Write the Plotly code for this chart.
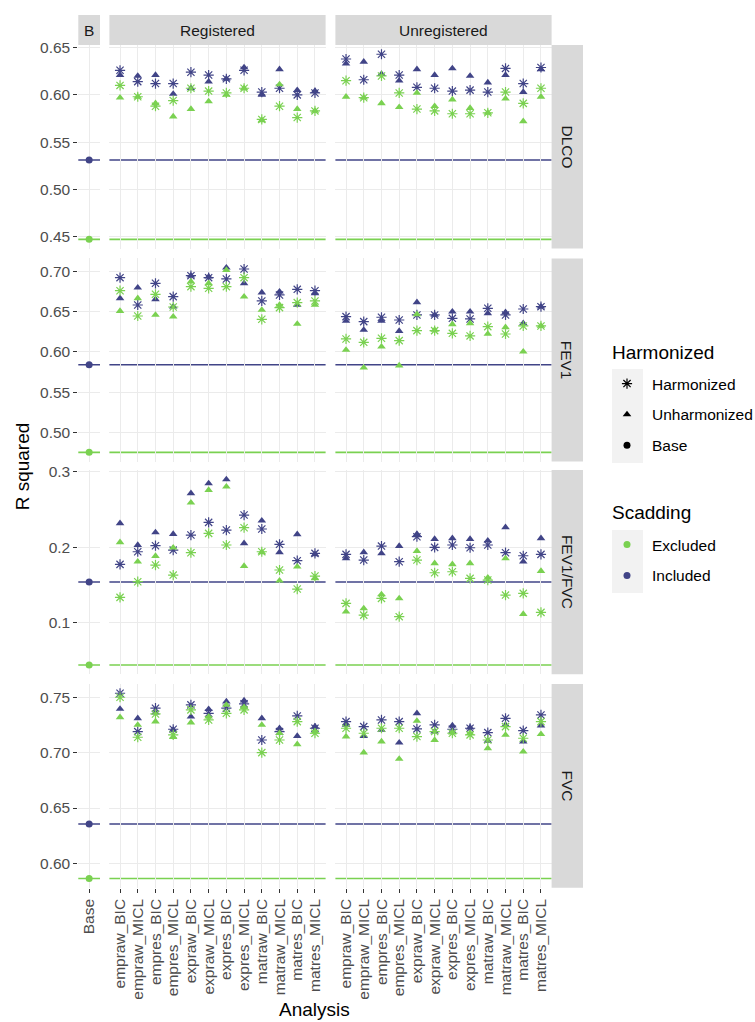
import plotly.graph_objects as go

# ---------------- data ----------------
CATEGORIES = ["empraw_BIC", "empraw_MICL", "empres_BIC", "empres_MICL",
              "expraw_BIC", "expraw_MICL", "expres_BIC", "expres_MICL",
              "matraw_BIC", "matraw_MICL", "matres_BIC", "matres_MICL"]
BASE_CATEGORY = ["Base"]
FACETS = ["B", "Registered", "Unregistered"]
MEASURES = ["DLCO", "FEV1", "FEV1/FVC", "FVC"]

# DLCO
DLCO_REG_INC_HARM = [0.626, 0.614, 0.612, 0.612, 0.624, 0.621, 0.617, 0.626, 0.603, 0.607, 0.600, 0.602]
DLCO_REG_INC_UNH = [0.621, 0.620, 0.621, 0.601, 0.607, 0.614, 0.617, 0.629, 0.600, 0.627, 0.605, 0.604]
DLCO_REG_EXC_HARM = [0.610, 0.598, 0.588, 0.594, 0.607, 0.604, 0.602, 0.607, 0.574, 0.588, 0.576, 0.583]
DLCO_REG_EXC_UNH = [0.597, 0.598, 0.591, 0.577, 0.585, 0.593, 0.600, 0.607, 0.573, 0.611, 0.585, 0.583]
DLCO_UNR_INC_HARM = [0.638, 0.616, 0.643, 0.621, 0.608, 0.607, 0.604, 0.605, 0.603, 0.628, 0.612, 0.629]
DLCO_UNR_INC_UNH = [0.633, 0.635, 0.622, 0.615, 0.627, 0.621, 0.628, 0.620, 0.613, 0.621, 0.603, 0.627]
DLCO_UNR_EXC_HARM = [0.615, 0.597, 0.620, 0.602, 0.585, 0.583, 0.580, 0.580, 0.581, 0.603, 0.591, 0.607]
DLCO_UNR_EXC_UNH = [0.598, 0.597, 0.591, 0.587, 0.602, 0.588, 0.595, 0.586, 0.581, 0.596, 0.572, 0.598]

# FEV1
FEV1_REG_INC_HARM = [0.6925, 0.6585, 0.6855, 0.6689, 0.6950, 0.6925, 0.6909, 0.7033, 0.6635, 0.6710, 0.6780, 0.6763]
FEV1_REG_INC_UNH = [0.6668, 0.6801, 0.6656, 0.6564, 0.6950, 0.6938, 0.7050, 0.6855, 0.6739, 0.6751, 0.6585, 0.6730]
FEV1_REG_EXC_HARM = [0.6763, 0.6448, 0.6718, 0.6560, 0.6813, 0.6793, 0.6813, 0.6925, 0.6407, 0.6552, 0.6614, 0.6635]
FEV1_REG_EXC_UNH = [0.6510, 0.6668, 0.6461, 0.6440, 0.6876, 0.6855, 0.7020, 0.6689, 0.6523, 0.6585, 0.6349, 0.6585]
FEV1_UNR_INC_HARM = [0.6440, 0.6378, 0.6432, 0.6398, 0.6461, 0.6461, 0.6419, 0.6411, 0.6544, 0.6461, 0.6535, 0.6564]
FEV1_UNR_INC_UNH = [0.6386, 0.6274, 0.6386, 0.6261, 0.6618, 0.6461, 0.6502, 0.6502, 0.6481, 0.6494, 0.6357, 0.6564]
FEV1_UNR_EXC_HARM = [0.6162, 0.6120, 0.6170, 0.6141, 0.6266, 0.6266, 0.6232, 0.6200, 0.6315, 0.6224, 0.6324, 0.6324]
FEV1_UNR_EXC_UNH = [0.6025, 0.5805, 0.6066, 0.5830, 0.6469, 0.6274, 0.6344, 0.6357, 0.6224, 0.6307, 0.6004, 0.6324]

# FEV1/FVC
RATIO_REG_INC_HARM = [0.1773, 0.1940, 0.2020, 0.1962, 0.2161, 0.2329, 0.2227, 0.2426, 0.2241, 0.2038, 0.1821, 0.1918]
RATIO_REG_INC_UNH = [0.2316, 0.2029, 0.2196, 0.2174, 0.2713, 0.2845, 0.2898, 0.2051, 0.2351, 0.1932, 0.2170, 0.1905]
RATIO_REG_EXC_HARM = [0.1336, 0.1543, 0.1764, 0.1631, 0.1927, 0.2183, 0.2029, 0.2258, 0.1940, 0.1698, 0.1446, 0.1618]
RATIO_REG_EXC_UNH = [0.2064, 0.1808, 0.1883, 0.1993, 0.2589, 0.2757, 0.2801, 0.1751, 0.1932, 0.1556, 0.1742, 0.1587]
RATIO_UNR_INC_HARM = [0.1905, 0.1830, 0.2015, 0.1808, 0.2139, 0.1998, 0.2029, 0.1993, 0.2029, 0.1927, 0.1887, 0.1905]
RATIO_UNR_INC_UNH = [0.1852, 0.1932, 0.1918, 0.2015, 0.2174, 0.2108, 0.2117, 0.2108, 0.2086, 0.2263, 0.1808, 0.2117]
RATIO_UNR_EXC_HARM = [0.1256, 0.1101, 0.1322, 0.1080, 0.1830, 0.1662, 0.1675, 0.1587, 0.1565, 0.1366, 0.1389, 0.1137]
RATIO_UNR_EXC_UNH = [0.1146, 0.1190, 0.1375, 0.1322, 0.1949, 0.1786, 0.1773, 0.1786, 0.1596, 0.1852, 0.1115, 0.1684]

# FVC
FVC_REG_INC_HARM = [0.7536, 0.7190, 0.7401, 0.7211, 0.7431, 0.7355, 0.7401, 0.7440, 0.7114, 0.7190, 0.7331, 0.7220]
FVC_REG_INC_UNH = [0.7395, 0.7310, 0.7361, 0.7205, 0.7325, 0.7392, 0.7461, 0.7470, 0.7310, 0.7220, 0.7150, 0.7235]
FVC_REG_EXC_HARM = [0.7500, 0.7139, 0.7349, 0.7160, 0.7386, 0.7295, 0.7355, 0.7386, 0.7000, 0.7114, 0.7280, 0.7175]
FVC_REG_EXC_UNH = [0.7319, 0.7250, 0.7280, 0.7139, 0.7271, 0.7325, 0.7431, 0.7410, 0.7250, 0.7175, 0.7075, 0.7190]
FVC_UNR_INC_HARM = [0.7280, 0.7235, 0.7295, 0.7280, 0.7214, 0.7250, 0.7211, 0.7220, 0.7181, 0.7310, 0.7199, 0.7340]
FVC_UNR_INC_UNH = [0.7250, 0.7150, 0.7205, 0.7090, 0.7355, 0.7190, 0.7244, 0.7226, 0.7105, 0.7250, 0.7100, 0.7244]
FVC_UNR_EXC_HARM = [0.7220, 0.7175, 0.7220, 0.7220, 0.7145, 0.7190, 0.7175, 0.7160, 0.7114, 0.7235, 0.7130, 0.7280]
FVC_UNR_EXC_UNH = [0.7145, 0.7000, 0.7100, 0.6943, 0.7286, 0.7114, 0.7181, 0.7175, 0.7039, 0.7160, 0.7009, 0.7166]

# Base model R squared per measure (DLCO, FEV1, FEV1/FVC, FVC)
BASE_INCLUDED = [0.531, 0.584, 0.154, 0.6355]
BASE_EXCLUDED = [0.447, 0.475, 0.044, 0.5864]

Y_DTICK = [0.05, 0.05, 0.1, 0.05]
Y_FORMAT = [".2f", ".2f", ".1f", ".2f"]

SERIES = {
    "DLCO": {"Registered": (DLCO_REG_INC_HARM, DLCO_REG_INC_UNH, DLCO_REG_EXC_HARM, DLCO_REG_EXC_UNH),
             "Unregistered": (DLCO_UNR_INC_HARM, DLCO_UNR_INC_UNH, DLCO_UNR_EXC_HARM, DLCO_UNR_EXC_UNH)},
    "FEV1": {"Registered": (FEV1_REG_INC_HARM, FEV1_REG_INC_UNH, FEV1_REG_EXC_HARM, FEV1_REG_EXC_UNH),
             "Unregistered": (FEV1_UNR_INC_HARM, FEV1_UNR_INC_UNH, FEV1_UNR_EXC_HARM, FEV1_UNR_EXC_UNH)},
    "FEV1/FVC": {"Registered": (RATIO_REG_INC_HARM, RATIO_REG_INC_UNH, RATIO_REG_EXC_HARM, RATIO_REG_EXC_UNH),
                 "Unregistered": (RATIO_UNR_INC_HARM, RATIO_UNR_INC_UNH, RATIO_UNR_EXC_HARM, RATIO_UNR_EXC_UNH)},
    "FVC": {"Registered": (FVC_REG_INC_HARM, FVC_REG_INC_UNH, FVC_REG_EXC_HARM, FVC_REG_EXC_UNH),
            "Unregistered": (FVC_UNR_INC_HARM, FVC_UNR_INC_UNH, FVC_UNR_EXC_HARM, FVC_UNR_EXC_UNH)},
}

# ---------------- style ----------------
W, H = 755, 1022
BLUE = "#414487"
GREEN = "#7AD151"
STRIP = "#D9D9D9"
GRID = "#EBEBEB"
FONT = "Liberation Sans, Arial, Helvetica, sans-serif"
TICK_FONT = dict(family=FONT, size=15.5, color="#4D4D4D")

COL_PX = [(78.3, 100.0), (109.4, 325.6), (335.4, 551.6)]
ROW_PX = [(45.0, 248.6), (258.4, 461.6), (470.1, 674.3), (684.0, 887.7)]
STRIP_TOP = 15.0
STRIP_RIGHT = (551.6, 583.0)


def fx(p):
    return p / W


def fy(p):
    return 1 - p / H


def ax_name(prefix, idx):
    return prefix if idx == 1 else f"{prefix}{idx}"


fig = go.Figure()
shapes = []
annotations = []
layout = {}

SYM_HARM = dict(symbol="asterisk-open", size=8.5, line=dict(width=1.2))
SYM_UNH = dict(symbol="triangle-up", size=7.5, line=dict(width=0))

for r, measure in enumerate(MEASURES):
    # y range from data with 5% expansion
    vals = [BASE_INCLUDED[r], BASE_EXCLUDED[r]]
    for facet in ("Registered", "Unregistered"):
        for s in SERIES[measure][facet]:
            vals += s
    lo, hi = min(vals), max(vals)
    pad = 0.05 * (hi - lo)
    yrange = [lo - pad, hi + pad]

    for c, facet in enumerate(FACETS):
        idx = r * 3 + c + 1
        xa, ya = ax_name("x", idx), ax_name("y", idx)
        cats = BASE_CATEGORY if c == 0 else CATEGORIES
        x0, x1 = COL_PX[c]
        y0, y1 = ROW_PX[r]
        bottom = r == len(MEASURES) - 1
        layout[ax_name("xaxis", idx)] = dict(
            domain=[fx(x0), fx(x1)], anchor=ya, type="category",
            categoryorder="array", categoryarray=cats,
            tickmode="array", tickvals=cats, ticktext=cats,
            range=[-0.6, len(cats) - 0.4], automargin=False,
            showgrid=True, gridcolor=GRID, gridwidth=1.4, zeroline=False,
            showline=False, showticklabels=bottom,
            ticks="outside" if bottom else "", ticklen=4, tickwidth=1.3, tickcolor="#333333",
            tickangle=-90, tickfont=TICK_FONT,
        )
        layout[ax_name("yaxis", idx)] = dict(
            domain=[fy(y1), fy(y0)], anchor=xa, range=yrange, automargin=False,
            dtick=Y_DTICK[r], tick0=0, tickformat=Y_FORMAT[r],
            showgrid=True, gridcolor=GRID, gridwidth=1.4, zeroline=False,
            showline=False, showticklabels=(c == 0),
            ticks="outside" if c == 0 else "", ticklen=4, tickwidth=1.3, tickcolor="#333333",
            tickfont=TICK_FONT,
        )
        # base reference lines
        for val, col in ((BASE_INCLUDED[r], BLUE), (BASE_EXCLUDED[r], GREEN)):
            shapes.append(dict(type="line", xref=f"{xa} domain", yref=ya,
                               x0=0, x1=1, y0=val, y1=val,
                               line=dict(color=col, width=1.6), layer="below"))
        if c == 0:
            fig.add_trace(go.Scatter(
                x=BASE_CATEGORY * 2, y=[BASE_EXCLUDED[r], BASE_INCLUDED[r]],
                mode="markers", xaxis=xa, yaxis=ya, showlegend=False, hoverinfo="skip",
                marker=dict(symbol="circle", size=7, color=[GREEN, BLUE])))
        else:
            inc_h, inc_u, exc_h, exc_u = SERIES[measure][facet]
            for ys, col, sym in ((inc_u, BLUE, SYM_UNH), (inc_h, BLUE, SYM_HARM),
                                 (exc_u, GREEN, SYM_UNH), (exc_h, GREEN, SYM_HARM)):
                m = dict(sym)
                m["color"] = col
                m["line"] = dict(sym["line"], color=col)
                fig.add_trace(go.Scatter(
                    x=CATEGORIES, y=ys, mode="markers", xaxis=xa, yaxis=ya,
                    showlegend=False, hoverinfo="skip", marker=m))

# ---------------- strips ----------------
for c, facet in enumerate(FACETS):
    x0, x1 = COL_PX[c]
    shapes.append(dict(type="rect", xref="paper", yref="paper",
                       x0=fx(x0), x1=fx(x1), y0=fy(ROW_PX[0][0]), y1=fy(STRIP_TOP),
                       fillcolor=STRIP, line=dict(width=0), layer="above"))
    annotations.append(dict(text=facet, xref="paper", yref="paper",
                            x=fx((x0 + x1) / 2), y=fy((STRIP_TOP + ROW_PX[0][0]) / 2),
                            xanchor="center", yanchor="middle", showarrow=False,
                            font=dict(family=FONT, size=15.5, color="#1A1A1A")))
for r, measure in enumerate(MEASURES):
    y0, y1 = ROW_PX[r]
    shapes.append(dict(type="rect", xref="paper", yref="paper",
                       x0=fx(STRIP_RIGHT[0]), x1=fx(STRIP_RIGHT[1]), y0=fy(y1), y1=fy(y0),
                       fillcolor=STRIP, line=dict(width=0), layer="above"))
    annotations.append(dict(text=measure, xref="paper", yref="paper",
                            x=fx(sum(STRIP_RIGHT) / 2), y=fy((y0 + y1) / 2),
                            xanchor="center", yanchor="middle", showarrow=False, textangle=90,
                            font=dict(family=FONT, size=15.5, color="#1A1A1A")))

# ---------------- axis titles ----------------
annotations.append(dict(text="R squared", xref="paper", yref="paper",
                        x=fx(22), y=fy((ROW_PX[0][0] + ROW_PX[-1][1]) / 2),
                        xanchor="center", yanchor="middle", showarrow=False, textangle=-90,
                        font=dict(family=FONT, size=19, color="black")))
annotations.append(dict(text="Analysis", xref="paper", yref="paper",
                        x=fx((COL_PX[0][0] + COL_PX[-1][1]) / 2), y=fy(1009),
                        xanchor="center", yanchor="middle", showarrow=False,
                        font=dict(family=FONT, size=19, color="black")))

# ---------------- legends ----------------
LEG_HARM_LABELS = ["Harmonized", "Unharmonized", "Base"]
LEG_HARM_SYMBOLS = ["asterisk-open", "triangle-up", "circle"]
LEG_SCAD_LABELS = ["Excluded", "Included"]
LEG_SCAD_COLORS = [GREEN, BLUE]

for lab, sym in zip(LEG_HARM_LABELS, LEG_HARM_SYMBOLS):
    size = {"asterisk-open": 8.5, "triangle-up": 7.5, "circle": 7}[sym]
    fig.add_trace(go.Scatter(x=[None], y=[None], mode="markers", name=lab,
                             legend="legend", legendgroup="h_" + lab, showlegend=True,
                             marker=dict(symbol=sym, size=size, color="black",
                                         line=dict(color="black", width=1.2 if sym == "asterisk-open" else 0))))
for lab, col in zip(LEG_SCAD_LABELS, LEG_SCAD_COLORS):
    fig.add_trace(go.Scatter(x=[None], y=[None], mode="markers", name=lab,
                             legend="legend2", legendgroup="s_" + lab, showlegend=True,
                             marker=dict(symbol="circle", size=7, color=col)))

KEY_X = (612, 643)
shapes.append(dict(type="rect", xref="paper", yref="paper", x0=fx(KEY_X[0]), x1=fx(KEY_X[1]),
                   y0=fy(463), y1=fy(369), fillcolor="#F2F2F2", line=dict(width=0), layer="below"))
shapes.append(dict(type="rect", xref="paper", yref="paper", x0=fx(KEY_X[0]), x1=fx(KEY_X[1]),
                   y0=fy(593), y1=fy(530), fillcolor="#F2F2F2", line=dict(width=0), layer="below"))
annotations.append(dict(text="Harmonized", xref="paper", yref="paper", x=fx(610), y=fy(352),
                        xanchor="left", yanchor="middle", showarrow=False,
                        font=dict(family=FONT, size=19, color="black")))
annotations.append(dict(text="Scadding", xref="paper", yref="paper", x=fx(610), y=fy(512),
                        xanchor="left", yanchor="middle", showarrow=False,
                        font=dict(family=FONT, size=19, color="black")))

leg_common = dict(xanchor="left", yanchor="top", bgcolor="rgba(0,0,0,0)", borderwidth=0,
                  font=dict(family=FONT, size=15.5, color="black"), tracegroupgap=7.7,
                  itemwidth=40, traceorder="grouped", itemclick=False, itemdoubleclick=False)
layout["legend"] = dict(leg_common, x=fx(602), y=fy(367))
layout["legend2"] = dict(leg_common, x=fx(602), y=fy(528))

fig.update_layout(
    width=W, height=H, margin=dict(l=0, r=0, t=0, b=0, autoexpand=False),
    paper_bgcolor="white", plot_bgcolor="white",
    font=dict(family=FONT, color="black"),
    shapes=shapes, annotations=annotations, showlegend=True,
    **layout,
)

fig.write_html("out.html", config={"displayModeBar": False},
               post_script="document.body.style.margin='0px';")
